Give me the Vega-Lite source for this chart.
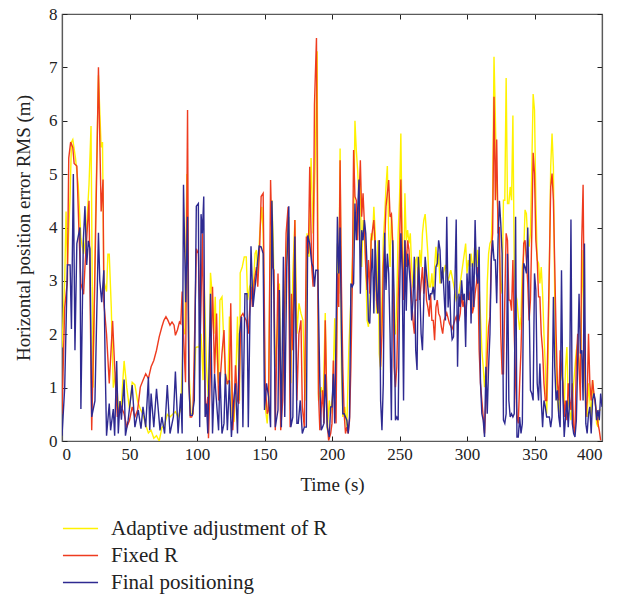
{
  "$schema": "https://vega.github.io/schema/vega-lite/v6.json",
  "width": 540,
  "height": 427,
  "autosize": {"type": "none"},
  "padding": {"left": 62, "top": 14, "right": 26, "bottom": 156},
  "background": "white",
  "config": {
    "view": {"stroke": "#5a5a5a", "strokeWidth": 1.2},
    "axis": {
      "labelFont": "Liberation Serif",
      "titleFont": "Liberation Serif",
      "labelFontSize": 17,
      "titleFontSize": 19,
      "titleFontWeight": "normal",
      "labelColor": "#222",
      "titleColor": "#222",
      "domainColor": "#5a5a5a",
      "domainWidth": 1.2,
      "tickColor": "#222",
      "tickSize": -5,
      "grid": false
    },
    "legend": {
      "labelFont": "Liberation Serif",
      "labelFontSize": 21,
      "labelColor": "#222",
      "labelLimit": 400
    },
    "line": {"strokeWidth": 1.4}
  },
  "datasets": {
    "A": [
      {"t":0,"v":1.75},{"t":2,"v":3.0},{"t":3,"v":4.3},{"t":4,"v":3.3},{"t":6,"v":4.6},{"t":7,"v":5.6},{"t":8,"v":5.65},{"t":10,"v":5.3},{"t":12,"v":4.8},{"t":14,"v":3.8},{"t":16,"v":3.5},{"t":18,"v":3.9},{"t":20,"v":4.8},{"t":21.5,"v":5.9},{"t":23,"v":1.0},{"t":25,"v":4.4},{"t":27,"v":6.85},{"t":29,"v":5.5},{"t":30,"v":5.6},{"t":31,"v":3.0},{"t":33,"v":2.8},{"t":34,"v":3.5},{"t":35,"v":3.5},{"t":36.5,"v":2.5},{"t":38,"v":1.0},{"t":40,"v":1.3},{"t":42,"v":0.5},{"t":44,"v":0.7},{"t":46,"v":1.5},{"t":48,"v":1.0},{"t":50,"v":0.6},{"t":52,"v":1.1},{"t":54,"v":1.05},{"t":56,"v":0.75},{"t":58,"v":0.6},{"t":60,"v":0.5},{"t":62,"v":0.3},{"t":64,"v":0.15},{"t":66,"v":0.2},{"t":68,"v":0.05},{"t":70,"v":0.1},{"t":72,"v":0.0},{"t":74,"v":0.25},{"t":76,"v":0.3},{"t":78,"v":0.5},{"t":80,"v":0.45},{"t":82,"v":0.5},{"t":84,"v":0.55},{"t":86,"v":0.45},{"t":88,"v":0.6},{"t":90,"v":2.1},{"t":91,"v":2.0},{"t":92.5,"v":5.0},{"t":94,"v":1.39},{"t":95.5,"v":0.51},{"t":97,"v":0.51},{"t":99,"v":1.75},{"t":100,"v":1.76},{"t":101.5,"v":1.76},{"t":103,"v":2.01},{"t":104.5,"v":1.14},{"t":105.5,"v":2.83},{"t":107,"v":1.39},{"t":108.5,"v":0.76},{"t":110,"v":3.15},{"t":111,"v":2.83},{"t":112.5,"v":2.01},{"t":113.5,"v":2.7},{"t":114.5,"v":1.7},{"t":116,"v":1.08},{"t":117,"v":2.64},{"t":118.5,"v":2.7},{"t":120,"v":1.76},{"t":121.5,"v":1.08},{"t":123,"v":1.08},{"t":124,"v":2.33},{"t":125,"v":2.01},{"t":126,"v":0.45},{"t":127.5,"v":0.39},{"t":129,"v":1.39},{"t":130,"v":2.33},{"t":131.5,"v":0.76},{"t":132,"v":3.15},{"t":133.5,"v":3.26},{"t":135,"v":3.45},{"t":136.5,"v":3.45},{"t":137.5,"v":2.64},{"t":139,"v":2.89},{"t":140,"v":2.95},{"t":141.5,"v":2.76},{"t":143,"v":3.51},{"t":144,"v":3.58},{"t":145,"v":3.14},{"t":146.5,"v":3.89},{"t":148,"v":4.39},{"t":149,"v":3.89},{"t":150.5,"v":0.64},{"t":152,"v":0.33},{"t":153,"v":0.76},{"t":154,"v":3.26},{"t":155.5,"v":4.51},{"t":156.5,"v":3.7},{"t":158,"v":1.39},{"t":159.5,"v":2.01},{"t":161,"v":2.95},{"t":162.5,"v":0.76},{"t":164,"v":1.39},{"t":165.5,"v":2.95},{"t":167,"v":3.89},{"t":168,"v":4.2},{"t":169.5,"v":1.08},{"t":171,"v":3.14},{"t":172.5,"v":4.14},{"t":174,"v":2.01},{"t":175.5,"v":2.58},{"t":177,"v":2.39},{"t":178.5,"v":2.26},{"t":180,"v":0.76},{"t":181.5,"v":3.89},{"t":183,"v":3.45},{"t":184.5,"v":5.3},{"t":186,"v":3.89},{"t":187.5,"v":5.14},{"t":189,"v":7.3},{"t":190,"v":0.76},{"t":192,"v":1.01},{"t":193.5,"v":0.76},{"t":195,"v":2.4},{"t":196.5,"v":0.2},{"t":198,"v":0.76},{"t":199,"v":0.51},{"t":200.5,"v":0.89},{"t":202,"v":2.3},{"t":203,"v":0.89},{"t":204,"v":3.7},{"t":205,"v":2.76},{"t":206,"v":5.48},{"t":207,"v":1.33},{"t":208,"v":0.45},{"t":209.5,"v":0.64},{"t":211,"v":0.26},{"t":212.5,"v":1.76},{"t":214,"v":2.64},{"t":215,"v":3.26},{"t":216,"v":3.89},{"t":217,"v":6.0},{"t":218,"v":5.45},{"t":219,"v":5.07},{"t":220,"v":4.51},{"t":221,"v":4.89},{"t":222,"v":3.26},{"t":223,"v":4.14},{"t":224,"v":3.89},{"t":225,"v":3.26},{"t":226,"v":2.26},{"t":227,"v":2.14},{"t":228,"v":2.64},{"t":229,"v":3.89},{"t":230,"v":3.76},{"t":231,"v":4.39},{"t":232,"v":3.89},{"t":233,"v":2.39},{"t":234,"v":3.76},{"t":235,"v":1.64},{"t":236,"v":1.33},{"t":237,"v":2.64},{"t":238,"v":3.76},{"t":239,"v":4.2},{"t":240,"v":4.76},{"t":241,"v":5.15},{"t":242,"v":3.89},{"t":243,"v":3.26},{"t":244,"v":4.26},{"t":245,"v":3.76},{"t":246,"v":2.01},{"t":247,"v":2.01},{"t":248,"v":2.64},{"t":249,"v":3.89},{"t":250,"v":4.51},{"t":251,"v":5.76},{"t":252,"v":3.76},{"t":253,"v":2.64},{"t":254,"v":4.64},{"t":255,"v":3.76},{"t":256,"v":3.95},{"t":257,"v":3.7},{"t":258,"v":3.89},{"t":259,"v":3.26},{"t":260,"v":2.89},{"t":261,"v":2.83},{"t":262,"v":3.39},{"t":263,"v":3.45},{"t":264,"v":2.83},{"t":265,"v":3.58},{"t":266,"v":3.26},{"t":267,"v":3.89},{"t":268,"v":4.14},{"t":269,"v":4.25},{"t":270,"v":3.89},{"t":271,"v":3.51},{"t":272,"v":2.89},{"t":273,"v":2.89},{"t":274,"v":3.14},{"t":275,"v":2.76},{"t":276,"v":3.26},{"t":277,"v":3.64},{"t":278,"v":3.26},{"t":279,"v":3.51},{"t":280,"v":2.95},{"t":282,"v":3.1},{"t":284,"v":3.3},{"t":286,"v":3.0},{"t":288,"v":3.2},{"t":290,"v":2.95},{"t":292,"v":2.64},{"t":294,"v":2.76},{"t":296,"v":3.14},{"t":298,"v":3.51},{"t":299,"v":3.7},{"t":300,"v":3.14},{"t":301,"v":3.39},{"t":302,"v":3.26},{"t":303,"v":3.51},{"t":304,"v":3.26},{"t":305,"v":3.39},{"t":306,"v":3.76},{"t":307,"v":3.26},{"t":308,"v":3.58},{"t":309,"v":2.89},{"t":310,"v":2.33},{"t":311,"v":1.7},{"t":312,"v":1.39},{"t":313,"v":1.01},{"t":314,"v":1.39},{"t":315,"v":2.95},{"t":316,"v":3.51},{"t":317,"v":3.7},{"t":318,"v":3.76},{"t":319,"v":4.51},{"t":320,"v":7.2},{"t":321,"v":6.08},{"t":322,"v":4.76},{"t":323,"v":4.2},{"t":324,"v":3.51},{"t":325,"v":2.95},{"t":326,"v":2.76},{"t":327,"v":4.51},{"t":328,"v":4.51},{"t":329,"v":6.8},{"t":330,"v":4.45},{"t":331,"v":4.45},{"t":332,"v":4.76},{"t":333,"v":4.51},{"t":334,"v":6.1},{"t":335,"v":3.26},{"t":336,"v":2.76},{"t":337,"v":2.64},{"t":338,"v":2.33},{"t":339,"v":2.08},{"t":340,"v":2.33},{"t":341,"v":3.26},{"t":342,"v":3.51},{"t":343,"v":4.33},{"t":344,"v":4.26},{"t":345,"v":3.76},{"t":346,"v":3.64},{"t":347,"v":3.89},{"t":348,"v":5.14},{"t":349,"v":6.5},{"t":350,"v":6.2},{"t":351,"v":4.51},{"t":352,"v":3.39},{"t":353,"v":3.33},{"t":354,"v":2.95},{"t":355,"v":3.26},{"t":356,"v":2.76},{"t":357,"v":2.01},{"t":358,"v":1.39},{"t":359,"v":0.51},{"t":360,"v":1.39},{"t":361,"v":3.26},{"t":362,"v":5.14},{"t":363,"v":5.76},{"t":364,"v":5.14},{"t":365,"v":2.64},{"t":366,"v":1.39},{"t":367,"v":0.76},{"t":368,"v":0.51},{"t":369,"v":1.08},{"t":370,"v":1.39},{"t":371,"v":1.08},{"t":372,"v":0.58},{"t":373,"v":1.39},{"t":374,"v":1.76},{"t":375,"v":0.76},{"t":376,"v":0.58},{"t":377,"v":0.39},{"t":378,"v":0.76},{"t":379,"v":1.08},{"t":380,"v":1.39},{"t":381,"v":1.7},{"t":382,"v":1.83},{"t":383,"v":1.51},{"t":384,"v":1.08},{"t":385,"v":2.64},{"t":386,"v":3.58},{"t":387,"v":1.39},{"t":388,"v":0.64},{"t":389,"v":0.45},{"t":390,"v":1.08},{"t":391,"v":0.76},{"t":392,"v":0.45},{"t":393,"v":1.14},{"t":394,"v":0.83},{"t":395,"v":0.76},{"t":396,"v":0.33},{"t":397,"v":0.26},{"t":398,"v":0.58},{"t":399,"v":0.58}
    ],
    "F": [
      {"t":0,"v":0.5},{"t":2,"v":2.5},{"t":4,"v":3.0},{"t":5,"v":5.3},{"t":6.4,"v":5.6},{"t":8,"v":5.5},{"t":9,"v":5.2},{"t":11,"v":5.15},{"t":12.6,"v":3.9},{"t":14,"v":2.95},{"t":16,"v":2.75},{"t":17,"v":3.26},{"t":20,"v":4.5},{"t":22,"v":0.2},{"t":24,"v":2.64},{"t":26,"v":5.45},{"t":27,"v":7.0},{"t":29,"v":4.3},{"t":30.4,"v":4.9},{"t":31,"v":2.6},{"t":33,"v":2.0},{"t":35,"v":1.08},{"t":37.5,"v":2.25},{"t":39,"v":1.39},{"t":41,"v":0.45},{"t":43,"v":0.7},{"t":46,"v":0.51},{"t":48,"v":0.26},{"t":50,"v":0.39},{"t":52,"v":0.64},{"t":54,"v":0.45},{"t":56,"v":0.58},{"t":58,"v":1.01},{"t":60,"v":1.14},{"t":62,"v":1.26},{"t":64,"v":1.17},{"t":66,"v":1.39},{"t":68,"v":1.51},{"t":70,"v":1.7},{"t":72,"v":1.95},{"t":74,"v":2.14},{"t":75.5,"v":2.26},{"t":77,"v":2.33},{"t":78.5,"v":2.26},{"t":80,"v":2.17},{"t":81.5,"v":2.23},{"t":83,"v":2.17},{"t":84,"v":1.98},{"t":85.5,"v":2.08},{"t":87,"v":2.23},{"t":88,"v":2.2},{"t":89,"v":2.8},{"t":90,"v":2.0},{"t":91.5,"v":1.1},{"t":93,"v":6.2},{"t":94,"v":1.1},{"t":95,"v":0.45},{"t":96,"v":0.45},{"t":97,"v":0.51},{"t":98,"v":1.7},{"t":99.5,"v":3.6},{"t":101,"v":3.51},{"t":102.5,"v":2.01},{"t":104,"v":3.89},{"t":105,"v":2.01},{"t":106.5,"v":0.45},{"t":108,"v":0.83},{"t":108.5,"v":0.05},{"t":110,"v":1.39},{"t":111.5,"v":2.89},{"t":113,"v":1.26},{"t":114.5,"v":2.39},{"t":116,"v":0.76},{"t":117,"v":1.08},{"t":118.5,"v":1.64},{"t":120,"v":2.08},{"t":121,"v":1.26},{"t":122.5,"v":1.08},{"t":124,"v":1.14},{"t":125,"v":2.58},{"t":126.5,"v":0.2},{"t":127.5,"v":0.64},{"t":128.5,"v":1.42},{"t":130,"v":0.76},{"t":131,"v":0.7},{"t":132.5,"v":2.33},{"t":134,"v":2.39},{"t":135,"v":2.33},{"t":136.5,"v":2.26},{"t":138,"v":2.01},{"t":140,"v":2.89},{"t":141,"v":2.51},{"t":142.5,"v":3.01},{"t":144,"v":3.26},{"t":145,"v":2.89},{"t":146.5,"v":3.7},{"t":147.5,"v":4.58},{"t":149,"v":4.64},{"t":150.5,"v":1.08},{"t":152,"v":0.51},{"t":153,"v":0.58},{"t":154.5,"v":4.89},{"t":156,"v":3.26},{"t":157,"v":3.2},{"t":158,"v":0.2},{"t":160,"v":3.14},{"t":161,"v":2.01},{"t":162,"v":0.2},{"t":163.5,"v":0.76},{"t":164.5,"v":2.01},{"t":166,"v":3.89},{"t":167.5,"v":4.39},{"t":169,"v":0.26},{"t":170,"v":2.76},{"t":171,"v":1.7},{"t":172.5,"v":4.14},{"t":174,"v":0.76},{"t":175.5,"v":2.01},{"t":177,"v":2.26},{"t":178,"v":0.64},{"t":179.5,"v":0.26},{"t":181,"v":3.83},{"t":182.5,"v":3.51},{"t":183.5,"v":5.14},{"t":185,"v":3.26},{"t":186,"v":2.89},{"t":187,"v":6.3},{"t":188.5,"v":7.55},{"t":190,"v":0.89},{"t":191,"v":0.2},{"t":193,"v":0.95},{"t":194,"v":0.33},{"t":195,"v":2.26},{"t":196.5,"v":0.33},{"t":197.5,"v":0.01},{"t":199,"v":0.14},{"t":200,"v":0.33},{"t":201,"v":1.51},{"t":202,"v":0.76},{"t":203,"v":0.33},{"t":204,"v":3.14},{"t":205,"v":2.51},{"t":206,"v":5.26},{"t":207,"v":2.89},{"t":208,"v":1.39},{"t":209,"v":0.51},{"t":210,"v":0.14},{"t":211,"v":0.26},{"t":212,"v":0.14},{"t":213,"v":0.39},{"t":214,"v":1.39},{"t":215,"v":2.89},{"t":216,"v":5.45},{"t":217,"v":4.58},{"t":218,"v":4.51},{"t":219,"v":3.76},{"t":220,"v":4.51},{"t":221,"v":5.26},{"t":222,"v":4.2},{"t":223,"v":4.64},{"t":224,"v":4.08},{"t":225,"v":3.26},{"t":226,"v":2.83},{"t":227,"v":3.39},{"t":228,"v":2.76},{"t":229,"v":3.76},{"t":230,"v":3.95},{"t":231,"v":4.14},{"t":232,"v":3.64},{"t":233,"v":2.64},{"t":234,"v":2.39},{"t":235,"v":3.76},{"t":236,"v":1.39},{"t":237,"v":2.01},{"t":238,"v":3.26},{"t":239,"v":3.7},{"t":240,"v":4.39},{"t":241,"v":4.64},{"t":242,"v":4.89},{"t":243,"v":4.2},{"t":244,"v":4.25},{"t":245,"v":3.64},{"t":246,"v":1.39},{"t":247,"v":1.01},{"t":248,"v":1.39},{"t":249,"v":2.64},{"t":250,"v":3.58},{"t":251,"v":4.9},{"t":252,"v":3.51},{"t":253,"v":2.64},{"t":254,"v":3.76},{"t":255,"v":3.26},{"t":256,"v":3.76},{"t":257,"v":3.58},{"t":258,"v":3.14},{"t":259,"v":2.64},{"t":260,"v":2.26},{"t":261,"v":2.01},{"t":262,"v":2.64},{"t":263,"v":2.64},{"t":264,"v":3.26},{"t":265,"v":2.64},{"t":266,"v":2.95},{"t":267,"v":3.26},{"t":268,"v":2.76},{"t":269,"v":3.26},{"t":270,"v":2.64},{"t":271,"v":2.51},{"t":272,"v":2.33},{"t":273,"v":2.76},{"t":274,"v":2.26},{"t":275,"v":2.26},{"t":276,"v":1.89},{"t":277,"v":2.51},{"t":278,"v":2.64},{"t":279,"v":2.39},{"t":280,"v":2.33},{"t":281,"v":2.14},{"t":282,"v":2.01},{"t":283,"v":2.26},{"t":285,"v":2.4},{"t":287,"v":2.2},{"t":289,"v":2.1},{"t":291,"v":2.26},{"t":292,"v":2.33},{"t":293,"v":2.2},{"t":294,"v":2.26},{"t":295,"v":2.39},{"t":296,"v":2.76},{"t":297,"v":2.51},{"t":298,"v":2.64},{"t":299,"v":2.33},{"t":300,"v":2.7},{"t":301,"v":2.89},{"t":302,"v":2.64},{"t":303,"v":2.89},{"t":304,"v":2.39},{"t":305,"v":2.51},{"t":306,"v":2.76},{"t":307,"v":2.95},{"t":308,"v":3.26},{"t":309,"v":1.7},{"t":310,"v":1.08},{"t":311,"v":0.76},{"t":312,"v":0.45},{"t":313,"v":0.14},{"t":314,"v":0.76},{"t":315,"v":1.64},{"t":316,"v":2.14},{"t":317,"v":2.33},{"t":318,"v":3.51},{"t":319,"v":3.89},{"t":320,"v":6.45},{"t":321,"v":4.51},{"t":322,"v":5.65},{"t":323,"v":3.89},{"t":324,"v":4.01},{"t":325,"v":2.01},{"t":326,"v":1.26},{"t":327,"v":1.26},{"t":328,"v":2.64},{"t":329,"v":3.89},{"t":330,"v":3.76},{"t":331,"v":2.64},{"t":332,"v":2.64},{"t":333,"v":2.44},{"t":334,"v":3.39},{"t":335,"v":2.01},{"t":336,"v":1.08},{"t":337,"v":0.45},{"t":338,"v":0.33},{"t":339,"v":1.08},{"t":340,"v":1.7},{"t":341,"v":2.64},{"t":342,"v":3.7},{"t":343,"v":3.76},{"t":344,"v":3.39},{"t":345,"v":2.95},{"t":346,"v":2.26},{"t":347,"v":2.64},{"t":348,"v":3.89},{"t":349,"v":5.4},{"t":350,"v":5.01},{"t":351,"v":3.76},{"t":352,"v":3.39},{"t":353,"v":2.7},{"t":354,"v":2.7},{"t":355,"v":2.01},{"t":356,"v":1.7},{"t":357,"v":1.08},{"t":358,"v":0.76},{"t":359,"v":0.76},{"t":360,"v":2.01},{"t":361,"v":3.26},{"t":362,"v":4.76},{"t":363,"v":5.01},{"t":364,"v":4.51},{"t":365,"v":3.26},{"t":366,"v":2.01},{"t":367,"v":1.08},{"t":368,"v":0.76},{"t":369,"v":1.7},{"t":370,"v":1.39},{"t":371,"v":1.08},{"t":372,"v":0.45},{"t":373,"v":0.76},{"t":374,"v":0.39},{"t":375,"v":1.08},{"t":376,"v":0.76},{"t":377,"v":0.58},{"t":378,"v":1.08},{"t":379,"v":0.26},{"t":380,"v":0.14},{"t":381,"v":1.51},{"t":382,"v":2.01},{"t":383,"v":1.39},{"t":384,"v":0.76},{"t":385,"v":3.76},{"t":386,"v":4.8},{"t":387,"v":2.01},{"t":388,"v":0.45},{"t":389,"v":0.76},{"t":390,"v":2.01},{"t":391,"v":1.08},{"t":392,"v":0.76},{"t":393,"v":1.14},{"t":394,"v":0.89},{"t":395,"v":0.7},{"t":396,"v":0.51},{"t":397,"v":0.33},{"t":398,"v":0.2},{"t":399,"v":0.01}
    ],
    "P": [
      {"t":0,"v":0.1},{"t":2,"v":1.0},{"t":4,"v":3.3},{"t":6,"v":3.3},{"t":7,"v":2.1},{"t":8.4,"v":5.0},{"t":9.6,"v":1.7},{"t":11,"v":3.7},{"t":13.3,"v":4.0},{"t":14,"v":0.6},{"t":15.8,"v":3.75},{"t":17,"v":4.4},{"t":18.3,"v":3.3},{"t":19.5,"v":3.75},{"t":20.7,"v":3.6},{"t":22,"v":0.45},{"t":24.4,"v":0.75},{"t":27,"v":3.9},{"t":28,"v":3.0},{"t":29.4,"v":2.6},{"t":31,"v":3.2},{"t":32,"v":1.4},{"t":33,"v":0.1},{"t":35,"v":0.7},{"t":36,"v":0.2},{"t":38,"v":0.6},{"t":39,"v":0.1},{"t":40.5,"v":1.5},{"t":41.7,"v":0.14},{"t":43,"v":0.75},{"t":44,"v":0.4},{"t":46,"v":1.15},{"t":47,"v":0.1},{"t":49,"v":0.39},{"t":52,"v":1.05},{"t":54,"v":0.26},{"t":56.5,"v":0.58},{"t":58.5,"v":0.23},{"t":60,"v":0.64},{"t":62,"v":0.26},{"t":64,"v":1.2},{"t":65,"v":0.2},{"t":66,"v":0.89},{"t":68,"v":0.26},{"t":70,"v":0.98},{"t":72.6,"v":0.2},{"t":74,"v":0.45},{"t":76,"v":0.14},{"t":78,"v":1.05},{"t":80,"v":0.14},{"t":82.5,"v":0.45},{"t":84,"v":1.3},{"t":86,"v":0.14},{"t":88,"v":0.89},{"t":89,"v":0.14},{"t":90,"v":4.8},{"t":91.6,"v":2.6},{"t":93,"v":4.2},{"t":94,"v":1.08},{"t":95,"v":0.48},{"t":96.5,"v":0.48},{"t":98,"v":0.76},{"t":99.5,"v":4.4},{"t":101,"v":4.45},{"t":102,"v":0.26},{"t":103,"v":4.25},{"t":104,"v":3.89},{"t":105,"v":4.58},{"t":106,"v":0.45},{"t":107,"v":0.7},{"t":108,"v":0.14},{"t":110,"v":2.76},{"t":111.5,"v":0.14},{"t":113,"v":1.26},{"t":114,"v":0.89},{"t":116,"v":0.2},{"t":117,"v":1.29},{"t":118.5,"v":0.14},{"t":120,"v":0.33},{"t":121,"v":1.26},{"t":122.5,"v":0.2},{"t":124,"v":1.14},{"t":125.5,"v":0.075},{"t":127,"v":0.7},{"t":128.5,"v":1.08},{"t":130,"v":0.14},{"t":131.5,"v":2.01},{"t":133,"v":2.33},{"t":134,"v":0.26},{"t":135.5,"v":2.76},{"t":137,"v":2.76},{"t":138,"v":0.26},{"t":140,"v":3.65},{"t":141.5,"v":2.51},{"t":143,"v":2.89},{"t":144.5,"v":3.26},{"t":146,"v":3.65},{"t":147.5,"v":3.64},{"t":149,"v":3.51},{"t":150,"v":0.58},{"t":151.5,"v":1.08},{"t":153,"v":0.83},{"t":154.5,"v":0.26},{"t":155.5,"v":4.5},{"t":157,"v":2.64},{"t":158,"v":0.26},{"t":160,"v":0.58},{"t":161,"v":2.83},{"t":162.5,"v":0.26},{"t":164,"v":3.45},{"t":165,"v":0.45},{"t":166.5,"v":3.26},{"t":168,"v":4.4},{"t":169.5,"v":0.26},{"t":171,"v":0.45},{"t":172.5,"v":3.83},{"t":174,"v":0.33},{"t":175,"v":0.33},{"t":176.5,"v":0.76},{"t":178,"v":0.14},{"t":179.5,"v":0.26},{"t":181,"v":0.26},{"t":182,"v":3.85},{"t":183.5,"v":3.7},{"t":185,"v":3.33},{"t":186,"v":3.26},{"t":187,"v":2.89},{"t":188,"v":3.2},{"t":189.5,"v":3.2},{"t":191,"v":1.08},{"t":192,"v":0.2},{"t":193,"v":0.26},{"t":194,"v":0.33},{"t":195,"v":1.25},{"t":196.5,"v":0.26},{"t":198,"v":0.075},{"t":199,"v":0.64},{"t":200,"v":0.64},{"t":201,"v":1.26},{"t":202,"v":0.33},{"t":203,"v":2.01},{"t":204,"v":4.2},{"t":205,"v":3.14},{"t":206,"v":4.0},{"t":207,"v":2.01},{"t":208,"v":0.51},{"t":209,"v":0.51},{"t":210,"v":0.45},{"t":211,"v":0.39},{"t":212,"v":0.14},{"t":213,"v":0.45},{"t":214,"v":2.95},{"t":215,"v":2.89},{"t":216,"v":2.95},{"t":217,"v":4.45},{"t":218,"v":3.76},{"t":219,"v":4.33},{"t":220,"v":4.9},{"t":221,"v":2.76},{"t":222,"v":3.95},{"t":223,"v":3.76},{"t":224,"v":4.14},{"t":225,"v":3.89},{"t":226,"v":3.26},{"t":227,"v":2.26},{"t":228,"v":2.2},{"t":229,"v":3.14},{"t":230,"v":3.6},{"t":231,"v":2.39},{"t":232,"v":3.76},{"t":233,"v":2.83},{"t":234,"v":2.39},{"t":235,"v":3.76},{"t":236,"v":0.76},{"t":237,"v":0.2},{"t":238,"v":1.08},{"t":239,"v":3.9},{"t":240,"v":2.83},{"t":241,"v":3.51},{"t":242,"v":3.14},{"t":243,"v":2.01},{"t":244,"v":0.39},{"t":245,"v":3.76},{"t":246,"v":2.7},{"t":247,"v":0.39},{"t":248,"v":0.45},{"t":249,"v":0.39},{"t":250,"v":2.64},{"t":251,"v":3.89},{"t":252,"v":3.2},{"t":253,"v":0.76},{"t":254,"v":3.76},{"t":255,"v":2.44},{"t":256,"v":3.51},{"t":257,"v":3.26},{"t":258,"v":2.95},{"t":259,"v":2.26},{"t":260,"v":2.64},{"t":261,"v":3.45},{"t":262,"v":1.7},{"t":263,"v":1.33},{"t":264,"v":3.45},{"t":265,"v":2.89},{"t":266,"v":2.01},{"t":267,"v":1.7},{"t":268,"v":2.64},{"t":269,"v":3.45},{"t":270,"v":3.14},{"t":271,"v":2.89},{"t":272,"v":2.64},{"t":273,"v":2.76},{"t":274,"v":2.76},{"t":275,"v":2.89},{"t":276,"v":2.64},{"t":277,"v":3.26},{"t":278,"v":3.33},{"t":279,"v":3.76},{"t":280,"v":3.58},{"t":281,"v":2.95},{"t":282,"v":3.26},{"t":283,"v":2.76},{"t":284,"v":2.26},{"t":285,"v":4.2},{"t":286,"v":2.5},{"t":287,"v":3.0},{"t":288,"v":2.2},{"t":289,"v":1.9},{"t":290,"v":1.95},{"t":291,"v":2.89},{"t":292,"v":4.15},{"t":293,"v":1.39},{"t":294,"v":2.76},{"t":295,"v":2.51},{"t":296,"v":3.01},{"t":297,"v":2.64},{"t":298,"v":2.76},{"t":299,"v":1.76},{"t":300,"v":3.14},{"t":301,"v":2.64},{"t":302,"v":3.51},{"t":303,"v":2.2},{"t":304,"v":3.33},{"t":305,"v":2.51},{"t":306,"v":4.14},{"t":307,"v":3.14},{"t":308,"v":2.95},{"t":309,"v":3.64},{"t":310,"v":1.08},{"t":311,"v":0.51},{"t":312,"v":0.39},{"t":313,"v":0.075},{"t":314,"v":1.39},{"t":315,"v":0.51},{"t":316,"v":1.39},{"t":317,"v":2.01},{"t":318,"v":3.39},{"t":319,"v":3.76},{"t":320,"v":3.39},{"t":321,"v":3.39},{"t":322,"v":2.58},{"t":323,"v":3.76},{"t":324,"v":4.5},{"t":325,"v":4.08},{"t":326,"v":3.51},{"t":327,"v":0.39},{"t":328,"v":0.33},{"t":329,"v":0.51},{"t":330,"v":3.51},{"t":331,"v":0.76},{"t":332,"v":0.45},{"t":333,"v":0.51},{"t":334,"v":0.45},{"t":335,"v":0.51},{"t":336,"v":4.2},{"t":337,"v":0.075},{"t":338,"v":0.075},{"t":339,"v":0.45},{"t":340,"v":0.14},{"t":341,"v":0.33},{"t":342,"v":3.33},{"t":343,"v":3.26},{"t":344,"v":3.14},{"t":345,"v":4.0},{"t":346,"v":2.64},{"t":347,"v":0.95},{"t":348,"v":0.89},{"t":349,"v":0.76},{"t":350,"v":3.14},{"t":351,"v":2.83},{"t":352,"v":1.08},{"t":353,"v":0.76},{"t":354,"v":1.45},{"t":355,"v":0.76},{"t":356,"v":0.26},{"t":357,"v":0.76},{"t":358,"v":0.64},{"t":359,"v":0.45},{"t":360,"v":0.45},{"t":361,"v":0.45},{"t":362,"v":0.26},{"t":363,"v":0.45},{"t":364,"v":2.7},{"t":365,"v":1.39},{"t":366,"v":0.76},{"t":367,"v":0.95},{"t":368,"v":0.45},{"t":369,"v":0.26},{"t":370,"v":3.2},{"t":371,"v":0.89},{"t":372,"v":0.075},{"t":373,"v":0.45},{"t":374,"v":0.76},{"t":375,"v":0.26},{"t":376,"v":0.76},{"t":377,"v":4.15},{"t":378,"v":0.33},{"t":379,"v":0.14},{"t":380,"v":0.075},{"t":381,"v":0.39},{"t":382,"v":1.51},{"t":383,"v":2.76},{"t":384,"v":1.64},{"t":385,"v":1.7},{"t":386,"v":0.76},{"t":387,"v":3.7},{"t":388,"v":0.33},{"t":389,"v":0.14},{"t":390,"v":0.51},{"t":391,"v":0.64},{"t":392,"v":0.14},{"t":393,"v":0.76},{"t":394,"v":0.89},{"t":395,"v":0.76},{"t":396,"v":0.39},{"t":397,"v":0.58},{"t":398,"v":0.39},{"t":399,"v":0.89},{"t":400,"v":0.64}
    ]
  },
  "layer": [
    {
      "data": {"name": "A"},
      "mark": {"type": "line", "clip": true},
      "encoding": {
        "x": {"field": "t", "type": "quantitative", "scale": {"domain": [0, 400], "nice": false}, "axis": {"orient": "bottom", "title": "Time (s)", "values": [0,50,100,150,200,250,300,350,400], "labelPadding": 10, "titlePadding": 13}},
        "y": {"field": "v", "type": "quantitative", "scale": {"domain": [0, 8], "nice": false}, "axis": {"orient": "left", "title": "Horizontal position error RMS (m)", "values": [0,1,2,3,4,5,6,7,8], "labelPadding": 10, "titlePadding": 15}},
        "color": {"datum": "Adaptive adjustment of R", "type": "nominal",
          "scale": {"domain": ["Adaptive adjustment of R", "Fixed R", "Final positioning"], "range": ["#FFF200", "#EE3B1F", "#2E2A91"]},
          "legend": {"title": null, "orient": "none", "legendX": 4, "legendY": 500, "direction": "vertical", "symbolType": "M-1.3,0H1.3", "symbolSize": 729, "symbolStrokeWidth": 2, "symbolFillColor": "transparent", "labelOffset": 16, "rowPadding": 2, "padding": 0}}
      }
    },
    {
      "data": {"name": "F"},
      "mark": {"type": "line", "clip": true},
      "encoding": {
        "x": {"field": "t", "type": "quantitative", "scale": {"domain": [0, 400], "nice": false}, "axis": {"orient": "top", "title": null, "labels": false, "values": [0,50,100,150,200,250,300,350,400]}},
        "y": {"field": "v", "type": "quantitative", "scale": {"domain": [0, 8], "nice": false}, "axis": {"orient": "right", "title": null, "labels": false, "values": [0,1,2,3,4,5,6,7,8]}},
        "color": {"datum": "Fixed R", "type": "nominal"}
      }
    },
    {
      "data": {"name": "P"},
      "mark": {"type": "line", "clip": true},
      "encoding": {
        "x": {"field": "t", "type": "quantitative", "scale": {"domain": [0, 400], "nice": false}, "axis": null},
        "y": {"field": "v", "type": "quantitative", "scale": {"domain": [0, 8], "nice": false}, "axis": null},
        "color": {"datum": "Final positioning", "type": "nominal"}
      }
    }
  ],
  "resolve": {"scale": {"x": "independent", "y": "independent"}}
}
